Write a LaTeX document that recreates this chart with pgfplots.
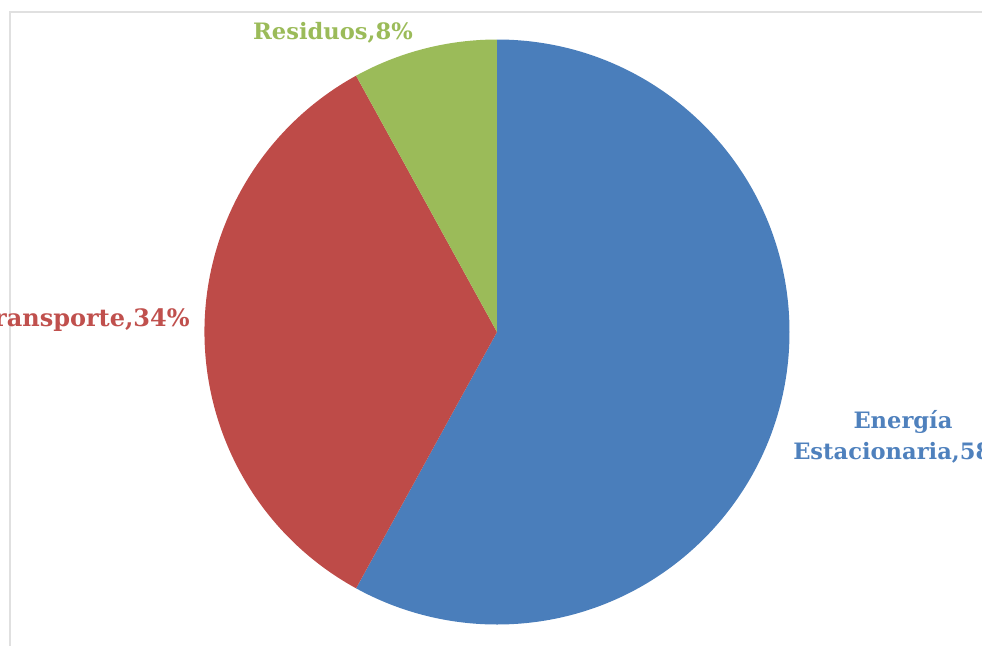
\documentclass[border=0pt]{standalone}
\usepackage{pgfplots}
\usepackage{pgfplotstable}
\pgfplotsset{compat=1.18}
\usepackage{fontspec}
\setmainfont{DejaVu Serif}
\definecolor{cblue}{HTML}{4A7EBB}
\definecolor{cred}{HTML}{BE4B48}
\definecolor{cgreen}{HTML}{9BBB59}
\definecolor{tblue}{HTML}{4F81BD}
\definecolor{tred}{HTML}{C0504D}
\definecolor{tgreen}{HTML}{9BBB59}
\pgfplotstableread[col sep=comma]{
label,value
Energía Estacionaria,58
Transporte,34
Residuos,8
}\piedata
\pgfplotstablegetelem{0}{value}\of\piedata \let\va\pgfplotsretval
\pgfplotstablegetelem{1}{value}\of\piedata \let\vb\pgfplotsretval
\pgfplotstablegetelem{2}{value}\of\piedata \let\vc\pgfplotsretval
\pgfmathsetmacro\tot{\va+\vb+\vc}
\pgfmathsetmacro\aA{90}
\pgfmathsetmacro\aB{90-3.6*(100*\va/\tot)}
\pgfmathsetmacro\aC{\aB-3.6*(100*\vb/\tot)}
\pgfmathsetmacro\aD{\aC-3.6*(100*\vc/\tot)}
\def\cx{497}\def\cy{313}\def\R{292.5}
\begin{document}
\begin{tikzpicture}
\useasboundingbox (0,0) rectangle (491pt,322.5pt);
\clip (0,0) rectangle (491pt,322.5pt);
\begin{axis}[at={(0,0)},anchor=south west,scale only axis,
  width=491pt,height=322.5pt,xmin=0,xmax=982,ymin=0,ymax=645,
  hide axis,clip=false]
\draw[color=black!12,line width=0.6pt] (axis cs:10,-5) -- (axis cs:10,633) -- (axis cs:990,633);
\fill[cblue] (axis cs:\cx,\cy) -- (axis cs:{\cx+\R*cos(\aA)},{\cy+\R*sin(\aA)}) arc[start angle=\aA,end angle=\aB,radius=146.25pt] -- cycle;
\fill[cred] (axis cs:\cx,\cy) -- (axis cs:{\cx+\R*cos(\aB)},{\cy+\R*sin(\aB)}) arc[start angle=\aB,end angle=\aC,radius=146.25pt] -- cycle;
\fill[cgreen] (axis cs:\cx,\cy) -- (axis cs:{\cx+\R*cos(\aC)},{\cy+\R*sin(\aC)}) arc[start angle=\aC,end angle=\aD,radius=146.25pt] -- cycle;
\node[font=\fontsize{11.3}{14}\selectfont\bfseries,text=tgreen,anchor=center] at (axis cs:333,612) {Residuos,8\%};
\node[font=\fontsize{12}{14}\selectfont\bfseries,text=tred,anchor=east,inner sep=0pt] at (axis cs:190,325) {Transporte,34\%};
\node[font=\fontsize{11.3}{15.5}\selectfont\bfseries,text=tblue,align=center,anchor=center] at (axis cs:903,208) {Energía\\Estacionaria,58\%};
\end{axis}
\end{tikzpicture}
\end{document}
